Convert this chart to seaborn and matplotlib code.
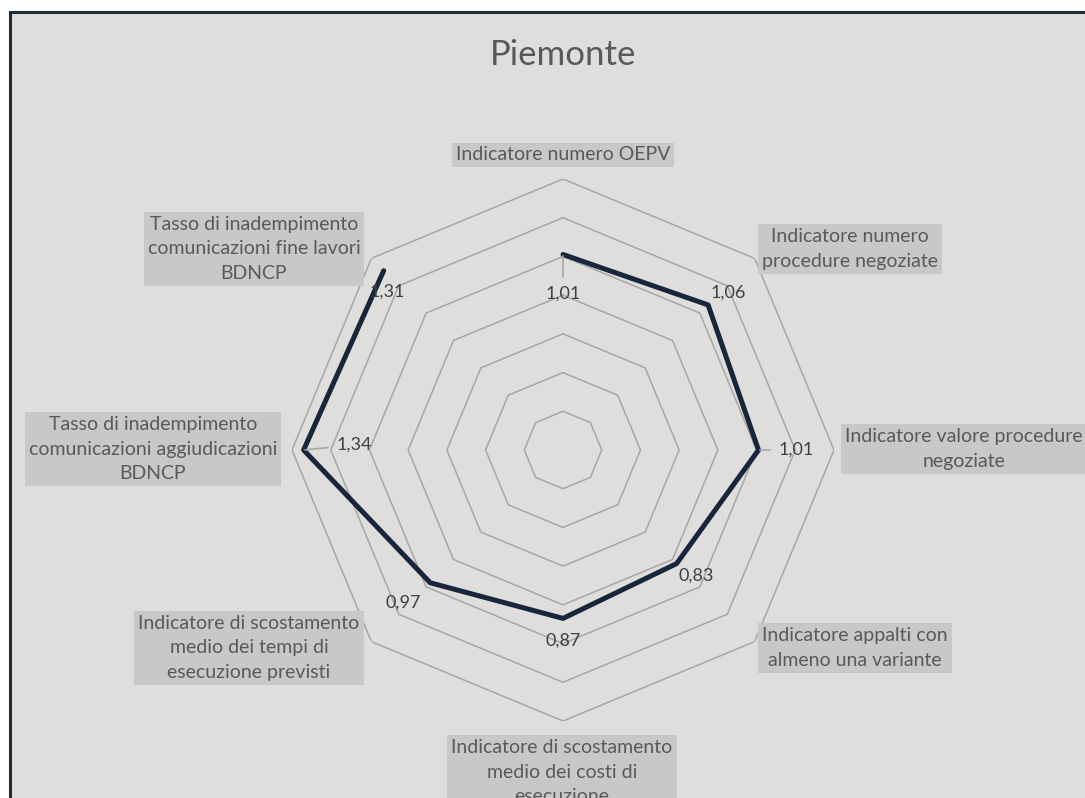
"""Radar chart of the Piemonte indicators."""
import numpy as np
import matplotlib
matplotlib.use("Agg")
import matplotlib.pyplot as plt
from matplotlib.patches import Rectangle
import seaborn as sns

# data
categories = [
    "Indicatore numero OEPV",
    "Indicatore numero\nprocedure negoziate",
    "Indicatore valore procedure\nnegoziate",
    "Indicatore appalti con\nalmeno una variante",
    "Indicatore di scostamento\nmedio dei costi di\nesecuzione",
    "Indicatore di scostamento\nmedio dei tempi di\nesecuzione previsti",
    "Tasso di inadempimento\ncomunicazioni aggiudicazioni\nBDNCP",
    "Tasso di inadempimento\ncomunicazioni fine lavori\nBDNCP",
]
values = [1.01, 1.06, 1.01, 0.83, 0.87, 0.97, 1.34, 1.31]
ring_ticks = [0.2, 0.4, 0.6, 0.8, 1.0, 1.2, 1.4]
title = "Piemonte"

# layout (pixels in the 1085x798 canvas)
W, H = 1085, 798
center, radius = (563, 450), 271
label_pos = [(563, 155), (850, 249), (964, 449), (855, 648),
             (562, 772), (249, 648), (153, 449), (254, 249)]
value_offsets = [(0, -39), (20, 12), (38, 0), (20, -12),
                 (0, -22), (-27, -20), (51, 5), (4, -21)]
leader = [True, False, True, False, False, False, True, False]

BG = "#dfdedd"
BOX = "#c9c8c7"
TXT = "#595959"
LINE = "#17263a"
GRID = "#a6a6a6"

sns.set_theme(style="white")
plt.rcParams["font.family"] = ["Lato", "DejaVu Sans"]


def fx(x):
    return x / W


def fy(y):
    return 1 - y / H


fig = plt.figure(figsize=(W / 100, H / 100), dpi=100, facecolor="white")
fig.patches.append(Rectangle((fx(9.5), -0.1), 1.2, fy(11.5) + 0.1,
                             transform=fig.transFigure, facecolor=BG,
                             edgecolor="#1c2b3a", lw=2.2, zorder=-5))

ax = fig.add_axes([fx(center[0] - radius), fy(center[1] + radius),
                   2 * radius / W, 2 * radius / H], projection="polar")
ax.set_theta_offset(np.pi / 2)
ax.set_theta_direction(-1)
ax.set_ylim(0, ring_ticks[-1])

n = len(categories)
theta = np.linspace(0, 2 * np.pi, n, endpoint=False)
theta_closed = np.append(theta, theta[0])

# octagonal grid
for r in ring_ticks:
    ax.plot(theta_closed, [r] * (n + 1), color=GRID, lw=1.1, zorder=1)

# series
sns.lineplot(x=theta_closed, y=values + values[:1], sort=False, ax=ax,
             color=LINE, lw=3.6, zorder=3, legend=False)
ax.set_ylim(0, ring_ticks[-1])
ax.set_axis_off()

for t, v, off, ld in zip(theta, values, value_offsets, leader):
    props = dict(arrowstyle="-", color=GRID, lw=1.2, shrinkA=4, shrinkB=1) if ld else None
    ax.annotate(f"{v:.2f}".replace(".", ","), xy=(t, v), xytext=off,
                textcoords="offset pixels", ha="center", va="center",
                fontsize=13, color="#404040", arrowprops=props, zorder=4)

for lab, (x, y) in zip(categories, label_pos):
    fig.text(fx(x), fy(y), lab, ha="center", va="center", fontsize=14,
             color=TXT, linespacing=1.55,
             bbox=dict(boxstyle="square,pad=0.2", fc=BOX, ec="none"))

fig.text(fx(563), fy(55), title, ha="center", va="center",
         fontsize=25, color=TXT)

fig.savefig("out.png", dpi=100, facecolor="white")
